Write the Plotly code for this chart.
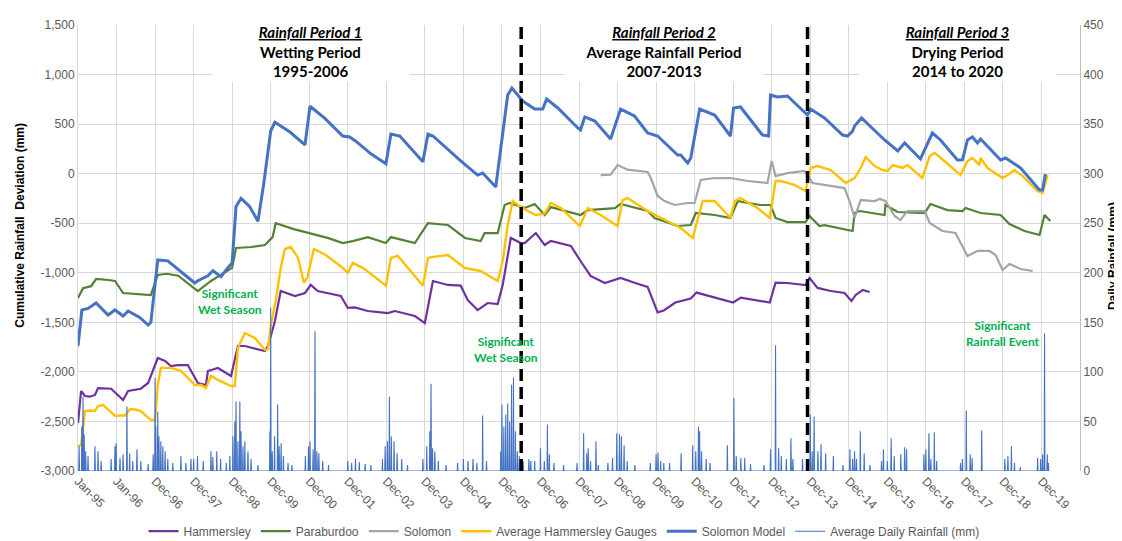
import plotly.graph_objects as go

# ---------------- axis labels ----------------
x_tick_labels = ["Jan-95", "Jan-96", "Dec-96", "Dec-97", "Dec-98", "Dec-99", "Dec-00",
                 "Dec-01", "Dec-02", "Dec-03", "Dec-04", "Dec-05", "Dec-06", "Dec-07",
                 "Dec-08", "Dec-09", "Dec-10", "Dec-11", "Dec-12", "Dec-13", "Dec-14",
                 "Dec-15", "Dec-16", "Dec-17", "Dec-18", "Dec-19"]
x_tick_pos = list(range(len(x_tick_labels)))          # one slot per label
y_tick_vals = [-3000, -2500, -2000, -1500, -1000, -500, 0, 500, 1000, 1500]
y_tick_text = ["-3,000", "-2,500", "-2,000", "-1,500", "-1,000", "-500", "0", "500", "1,000", "1,500"]
y2_tick_vals = [0, 50, 100, 150, 200, 250, 300, 350, 400, 450]

# ---------------- series (x = position on time axis, in label slots) ----------------
ham_t = [0.0, 0.08, 0.18, 0.31, 0.44, 0.52, 0.86, 1.04, 1.17, 1.30, 1.63, 1.82, 2.07, 2.26,
         2.41, 2.59, 2.85, 3.11, 3.32, 3.37, 3.63, 3.97, 4.15, 4.33, 4.85, 4.93, 5.11, 5.26,
         5.63, 5.89, 6.04, 6.22, 6.82, 7.0, 7.18, 7.52, 8.04, 8.22, 8.74, 9.0, 9.21, 9.60,
         9.93, 10.11, 10.37, 10.63, 10.89, 11.02, 11.23, 11.49, 11.59, 11.88, 12.11, 12.27,
         12.79, 13.04, 13.30, 13.67, 14.08, 14.44, 14.78, 15.04, 15.20, 15.50, 15.90, 16.05,
         16.50, 17.00, 17.20, 17.60, 17.95, 18.10, 18.41, 18.88, 18.98, 19.19, 19.53, 19.89,
         20.07, 20.18, 20.36, 20.54]
ham_v = [-2516, -2193, -2243, -2250, -2233, -2163, -2170, -2233, -2284, -2193, -2170, -2112,
         -1860, -1890, -1941, -1931, -1931, -2112, -2132, -1991, -1961, -2041, -1739, -1739,
         -1789, -1739, -1487, -1184, -1234, -1204, -1123, -1184, -1234, -1355, -1350, -1386,
         -1406, -1386, -1436, -1507, -1083, -1123, -1130, -1274, -1376, -1305, -1315, -1123,
         -649, -700, -700, -599, -720, -679, -730, -881, -1032, -1103, -1052, -1100, -1143,
         -1400, -1380, -1300, -1260, -1200, -1250, -1300, -1250, -1280, -1300, -1100, -1103,
         -1123, -1052, -1153, -1184, -1204, -1285, -1224, -1174, -1194]

para_t = [0.0, 0.13, 0.34, 0.47, 0.78, 0.96, 1.17, 1.5, 1.89, 2.07, 2.3, 2.6, 3.11, 3.45,
          3.89, 4.0, 4.10, 4.5, 4.85, 5.05, 5.13, 5.6, 6.0, 6.5, 6.87, 7.13, 7.52, 7.99, 8.12,
          8.74, 9.08, 9.60, 10.04, 10.45, 10.55, 10.89, 11.07, 11.20, 11.59, 11.85, 12.11,
          12.27, 13.04, 13.23, 13.93, 14.08, 14.78, 14.96, 15.56, 15.90, 16.03, 16.52, 16.93,
          17.12, 17.38, 17.71, 17.97, 18.10, 18.41, 18.88, 18.98, 19.24, 19.37, 20.02, 20.10,
          20.15, 20.28, 20.93, 20.95, 21.27, 21.97, 22.12, 22.56, 22.95, 23.03, 23.42, 23.94,
          24.17, 24.56, 24.95, 25.08, 25.23]
para_v = [-1255, -1155, -1135, -1063, -1073, -1083, -1204, -1210, -1224, -1022, -1010, -1030,
          -1184, -1083, -980, -950, -750, -740, -720, -640, -500, -560, -600, -650, -700, -680,
          -640, -700, -640, -700, -500, -518, -649, -679, -599, -599, -316, -296, -347, -306,
          -417, -337, -417, -367, -347, -306, -377, -447, -528, -518, -397, -417, -447, -276,
          -296, -316, -316, -447, -488, -488, -427, -528, -520, -579, -579, -397, -377, -417,
          -316, -387, -397, -306, -367, -377, -347, -397, -417, -508, -579, -619, -417, -478]

sol_t = [13.56, 13.82, 14.0, 14.26, 14.78, 14.86, 15.04, 15.22, 15.48, 15.82, 16.0, 16.16,
         16.52, 16.93, 17.38, 17.89, 18.0, 18.10, 18.41, 18.85, 19.06, 19.37, 19.89, 20.02,
         20.15, 20.31, 20.67, 20.80, 20.95, 21.19, 21.34, 21.52, 21.97, 22.10, 22.43, 22.77,
         23.08, 23.34, 23.65, 23.81, 23.99, 24.17, 24.46, 24.77]
sol_v = [-14, -10, 87, 40, 17, -40, -225, -276, -316, -296, -296, -64, -44, -44, -74, -94, 128,
         -24, 6, 27, -94, -114, -145, -276, -447, -266, -276, -256, -276, -427, -468, -377,
         -377, -498, -579, -599, -831, -780, -780, -821, -972, -911, -962, -982]

avg_t = [0.0, 0.08, 0.18, 0.31, 0.44, 0.52, 0.65, 0.83, 0.96, 1.09, 1.22, 1.35, 1.48, 1.63,
         1.89, 2.0, 2.07, 2.15, 2.41, 2.67, 3.03, 3.2, 3.32, 3.45, 3.63, 3.97, 4.07, 4.15,
         4.33, 4.59, 4.85, 4.93, 5.0, 5.13, 5.26, 5.37, 5.52, 5.71, 5.86, 5.95, 6.04, 6.12,
         6.43, 6.87, 7.0, 7.13, 7.39, 7.99, 8.12, 8.30, 8.95, 9.08, 9.21, 9.60, 10.04, 10.45,
         10.89, 11.02, 11.15, 11.28, 11.41, 11.67, 11.88, 12.11, 12.27, 12.53, 13.02, 13.23,
         13.56, 14.0, 14.13, 14.26, 14.78, 15.22, 15.64, 15.95, 16.21, 16.52, 16.93, 17.04,
         17.19, 17.63, 17.95, 18.10, 18.23, 18.59, 18.88, 19.01, 19.19, 19.53, 19.92, 20.15,
         20.31, 20.44, 20.67, 20.88, 21.01, 21.14, 21.40, 21.52, 21.91, 22.10, 22.23, 22.48,
         22.90, 23.08, 23.21, 23.39, 23.42, 23.60, 23.99, 24.12, 24.30, 24.51, 24.90, 25.03,
         25.16]
avg_v = [-2748, -2740, -2395, -2390, -2395, -2344, -2334, -2400, -2445, -2440, -2440, -2375,
         -2380, -2395, -2486, -2486, -2132, -1960, -1960, -1990, -2132, -2132, -2163, -2041,
         -2080, -2143, -2143, -1759, -1608, -1658, -1779, -1770, -1537, -1285, -952, -760,
         -740, -850, -1100, -1050, -900, -760, -820, -950, -1000, -900, -950, -1130, -850,
         -830, -1130, -850, -840, -821, -952, -982, -1083, -881, -518, -276, -316, -377, -417,
         -400, -296, -347, -528, -347, -417, -528, -266, -246, -377, -468, -548, -649, -276,
         -276, -447, -276, -246, -347, -447, -74, -74, -114, -175, 57, 77, 37, -94, -44, 57,
         168, 77, 37, 27, 87, 57, 87, -44, 178, 209, 128, -14, 128, 158, 87, 158, 57, -44,
         -14, 37, -24, -175, -195, -14]

model_t = [0.0, 0.10, 0.26, 0.47, 0.78, 0.96, 1.17, 1.30, 1.6, 1.82, 1.89, 2.0, 2.07, 2.33,
           2.7, 3.03, 3.11, 3.37, 3.5, 3.71, 3.89, 4.0, 4.10, 4.23, 4.45, 4.67, 4.82, 4.93,
           5.0, 5.11, 5.5, 5.89, 6.02, 6.4, 6.87, 7.05, 7.2, 7.6, 7.99, 8.12, 8.35, 8.95, 9.08,
           9.21, 9.60, 9.93, 10.37, 10.50, 10.84, 11.15, 11.26, 11.54, 11.85, 12.06, 12.16,
           12.45, 12.97, 13.04, 13.15, 13.41, 13.82, 14.08, 14.44, 14.78, 15.04, 15.56, 15.64,
           15.82, 15.90, 16.13, 16.52, 16.91, 16.93, 17.01, 17.19, 17.76, 17.92, 17.97, 18.15,
           18.41, 18.75, 18.93, 19.01, 19.37, 19.84, 19.97, 20.10, 20.15, 20.33, 20.93, 21.27,
           21.45, 21.86, 22.17, 22.38, 22.82, 22.95, 23.08, 23.21, 23.34, 23.42, 23.94, 24.07,
           24.46, 24.95, 25.03, 25.10]
model_v = [-1740, -1376, -1360, -1305, -1426, -1375, -1436, -1386, -1450, -1527, -1500, -1100,
           -870, -880, -1000, -1103, -1080, -1030, -980, -1040, -950, -900, -330, -250, -330,
           -480, -100, 200, 430, 520, 420, 290, 680, 560, 380, 370, 330, 200, 100, 400, 380,
           120, 400, 380, 239, 128, -14, 6, -135, 794, 864, 733, 652, 652, 753, 663, 461, 441,
           572, 531, 350, 652, 582, 410, 380, 188, 188, 108, 158, 652, 592, 380, 380, 663, 673,
           390, 380, 794, 773, 784, 663, 592, 652, 562, 390, 380, 430, 481, 562, 340, 229, 310,
           148, 410, 340, 138, 140, 340, 370, 310, 350, 138, 158, 57, -165, -165, -4]

# daily rainfall events: (position on time axis, mm)
daily_rain = [
    (0.03, 25), (0.10, 45), (0.13, 75), (0.16, 37), (0.20, 20), (0.26, 15), (0.44, 25),
    (0.52, 20), (0.60, 10), (0.86, 12),
    (0.96, 25), (0.99, 28), (1.09, 13), (1.17, 17), (1.27, 65), (1.34, 18), (1.42, 10),
    (1.53, 22), (1.63, 10), (1.82, 7),
    (1.95, 17), (2.00, 94), (2.02, 45), (2.07, 60), (2.10, 35), (2.15, 30), (2.20, 25),
    (2.26, 20), (2.33, 12), (2.46, 8), (2.67, 15), (2.80, 8), (2.93, 12),
    (3.00, 12), (3.10, 15), (3.25, 10), (3.45, 20), (3.50, 14), (3.60, 20), (3.70, 12), (3.85, 8),
    (3.94, 15), (4.02, 35), (4.07, 50), (4.10, 70), (4.15, 30), (4.20, 70), (4.23, 40),
    (4.28, 25), (4.33, 30), (4.41, 20), (4.49, 12), (4.67, 6),
    (4.98, 40), (5.00, 165), (5.04, 20), (5.10, 35), (5.18, 67), (5.22, 25), (5.27, 28),
    (5.33, 15), (5.45, 8), (5.55, 6),
    (5.90, 15), (5.98, 25), (6.02, 30), (6.10, 22), (6.15, 141), (6.20, 20), (6.25, 18),
    (6.35, 10), (6.50, 6),
    (7.00, 10), (7.10, 8), (7.20, 12), (7.30, 9), (7.45, 7), (7.60, 6),
    (7.90, 12), (7.97, 25), (8.03, 30), (8.08, 75), (8.13, 35), (8.20, 30), (8.28, 18),
    (8.40, 12), (8.55, 6),
    (8.95, 12), (9.05, 25), (9.13, 40), (9.16, 88), (9.20, 23), (9.26, 20), (9.35, 10), (9.55, 6),
    (9.85, 8), (10.00, 12), (10.12, 10), (10.25, 12), (10.35, 8), (10.50, 56), (10.60, 10),
    (10.97, 20), (11.00, 67), (11.05, 45), (11.10, 57), (11.15, 68), (11.20, 50), (11.25, 87),
    (11.30, 94), (11.35, 40), (11.40, 20), (11.45, 15), (11.55, 10), (11.70, 12), (11.75, 10),
    (11.85, 10), (12.00, 23), (12.10, 10), (12.18, 47), (12.23, 17), (12.35, 8), (12.60, 6),
    (12.95, 8), (13.12, 38), (13.20, 18), (13.24, 23), (13.30, 10), (13.44, 30), (13.50, 6),
    (13.75, 8), (13.87, 13), (13.98, 38), (14.05, 37), (14.10, 35), (14.17, 26), (14.25, 10),
    (14.45, 6),
    (14.85, 8), (15.00, 17), (15.05, 19), (15.12, 10), (15.20, 8), (15.35, 8), (15.65, 18),
    (15.95, 26), (16.03, 20), (16.10, 45), (16.13, 40), (16.18, 20), (16.30, 12), (16.40, 8),
    (16.85, 26), (17.02, 74), (17.08, 15), (17.20, 13), (17.30, 13), (17.45, 7),
    (17.80, 6), (17.97, 22), (18.10, 127), (18.18, 23), (18.25, 15), (18.38, 12), (18.50, 33),
    (18.55, 12),
    (18.80, 12), (19.00, 57), (19.05, 20), (19.10, 55), (19.20, 20), (19.28, 27), (19.40, 18),
    (19.60, 15),
    (19.85, 6), (20.03, 22), (20.10, 12), (20.15, 20), (20.20, 12), (20.30, 40), (20.40, 18),
    (20.55, 6),
    (20.85, 10), (20.90, 22), (21.00, 10), (21.10, 33), (21.18, 15), (21.35, 17), (21.45, 24),
    (21.50, 22),
    (21.95, 17), (22.00, 22), (22.08, 38), (22.13, 12), (22.22, 39), (22.28, 10),
    (22.90, 8), (22.95, 12), (23.05, 61), (23.15, 17), (23.20, 13), (23.45, 41),
    (24.05, 12), (24.13, 15), (24.22, 25), (24.30, 8), (24.45, 4),
    (24.90, 13), (24.98, 12), (25.03, 17), (25.08, 139), (25.15, 17), (25.18, 8),
]
rain_end = 25.2
period_bounds = [11.5, 18.93]

# ---------------- build figure ----------------
fig = go.Figure()
fig.add_trace(go.Scatter(x=ham_t, y=ham_v, mode="lines", name="Hammersley",
                         line=dict(color="#7030A0", width=2.2)))
fig.add_trace(go.Scatter(x=para_t, y=para_v, mode="lines", name="Paraburdoo",
                         line=dict(color="#548235", width=2.2)))
fig.add_trace(go.Scatter(x=sol_t, y=sol_v, mode="lines", name="Solomon",
                         line=dict(color="#A5A5A5", width=2.2)))
fig.add_trace(go.Scatter(x=avg_t, y=avg_v, mode="lines", name="Average Hammersley Gauges",
                         line=dict(color="#FFC000", width=2.4)))
fig.add_trace(go.Scatter(x=model_t, y=model_v, mode="lines", name="Solomon Model",
                         line=dict(color="#4472C4", width=3)))

# daily rainfall as a spiky line
d = 0.009
rx, ry = [0.0], [0.0]
for t, mm in sorted(daily_rain):
    rx += [t - d, t, t + d]
    ry += [0, mm, 0]
rx.append(rain_end)
ry.append(0)
fig.add_trace(go.Scatter(x=rx, y=ry, mode="lines", showlegend=False, hoverinfo="skip",
                         yaxis="y2", fill="tozeroy", fillcolor="#4472C4",
                         line=dict(color="#4472C4", width=0)))
fig.add_trace(go.Scatter(x=rx, y=ry, mode="lines", name="Average Daily Rainfall (mm)",
                         yaxis="y2", line=dict(color="#4472C4", width=1.1)))

for xb in period_bounds:
    fig.add_shape(type="line", xref="x", yref="paper", x0=xb, x1=xb, y0=0, y1=1,
                  line=dict(color="black", width=3.5, dash="12px,6px"), layer="above")

title_font = dict(family="Lato", size=15, color="#000000")
period_texts = [
    (6.04, "<b><i><u>Rainfall Period 1</u></i></b><br><b>Wetting Period</b><br><b>1995-2006</b>"),
    (15.2, "<b><i><u>Rainfall Period 2</u></i></b><br><b>Average Rainfall Period</b><br><b>2007-2013</b>"),
    (22.82, "<b><i><u>Rainfall Period 3</u></i></b><br><b>Drying Period</b><br><b>2014 to 2020</b>"),
]
for xc, txt in period_texts:
    fig.add_annotation(x=xc, y=0.94, xref="x", yref="paper", text=txt, showarrow=False,
                       font=title_font, bgcolor="white", width=195, align="center",
                       xanchor="center", yanchor="middle")

green_font = dict(family="Lato", size=12, color="#00B050")
green_notes = [
    (3.94, 0.38, "<b>Significant<br>Wet Season</b>"),
    (11.1, 0.273, "<b>Significant<br>Wet Season</b>"),
    (24.01, 0.309, "<b>Significant<br>Rainfall Event</b>"),
]
for xc, yc, txt in green_notes:
    fig.add_annotation(x=xc, y=yc, xref="x", yref="paper", text=txt, showarrow=False,
                       font=green_font, align="center", xanchor="center", yanchor="middle")

axis_title_font = dict(family="Liberation Sans", size=12, color="#000000")
fig.add_annotation(x=-0.058, y=0.552, xref="paper", yref="paper", textangle=-90,
                   text="<b>Cumulative Rainfall  Deviation (mm)</b>", showarrow=False,
                   font=axis_title_font, xanchor="center", yanchor="middle")
fig.add_annotation(x=1.033, y=0.482, xref="paper", yref="paper", textangle=-90,
                   text="<b>Daily Rainfall (mm)</b>", showarrow=False,
                   font=axis_title_font, xanchor="center", yanchor="middle")

tick_font = dict(family="Liberation Sans", size=12, color="#595959")
fig.update_layout(
    width=1122, height=541,
    margin=dict(l=70, r=50, t=17, b=78, autoexpand=False),
    paper_bgcolor="white", plot_bgcolor="white",
    showlegend=True,
    legend=dict(orientation="h", x=0.485, xanchor="center", y=-0.135, yanchor="middle",
                font=dict(family="Liberation Sans", size=12, color="#595959"),
                itemwidth=30, bgcolor="rgba(0,0,0,0)"),
    xaxis=dict(range=[0, 26], tickvals=x_tick_pos, ticktext=x_tick_labels, tickangle=45,
               showgrid=True, gridcolor="#D9D9D9", gridwidth=1, zeroline=False,
               showline=False, ticks="", tickfont=tick_font, automargin=False),
    yaxis=dict(range=[-3000, 1500], tickvals=y_tick_vals, ticktext=y_tick_text,
               showgrid=True, gridcolor="#D9D9D9", gridwidth=1, zeroline=False,
               showline=True, linecolor="#D9D9D9", ticks="", tickfont=tick_font,
               automargin=False),
    yaxis2=dict(range=[0, 450], tickvals=y2_tick_vals, overlaying="y", side="right",
                showgrid=False, zeroline=False, showline=True, linecolor="#BFBFBF",
                ticks="", tickfont=tick_font, automargin=False),
)

fig.write_html("out.html")
